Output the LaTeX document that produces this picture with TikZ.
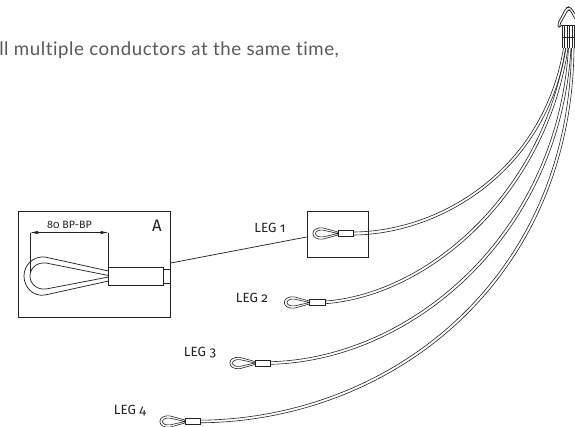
\documentclass[tikz,border=0pt]{standalone}
\usepackage{fontspec}
\setmainfont[LetterSpace=3,Ligatures=CommonOff]{Lato}
\newfontfamily\lblfont[Numbers=OldStyle]{Fira Sans}
\usetikzlibrary{arrows.meta}
\definecolor{ink}{HTML}{222222}
\definecolor{bodytext}{HTML}{58595B}
\tikzset{
  line/.style={draw=ink,line width=0.55pt},
  thin line/.style={draw=ink,line width=0.45pt},
  leg label/.style={font=\lblfont\fontsize{10}{11}\selectfont,text=ink,inner sep=0pt},
  pics/thimble/.style={code={
    \draw[thin line,fill=white,rounded corners=0.5pt] (0,-1.5) -- (-15,-5.6)
      .. controls (-21,-6.2) and (-25,-3.5) .. (-25,0)
      .. controls (-25,3.5) and (-21,6.2) .. (-15,5.6) -- (0,1.5) -- cycle;
    \draw[thin line] (0,0) -- (-15,-3.4)
      .. controls (-19.5,-3.8) and (-22.5,-2.2) .. (-22.5,0)
      .. controls (-22.5,2.2) and (-19.5,3.8) .. (-15,3.4) -- cycle;
    \draw[thin line,fill=white] (0,-2.8) rectangle (15.5,2.8);
  }}
}
\begin{document}
\begin{tikzpicture}[x=0.75pt,y=-0.75pt]
\useasboundingbox (0,0) rectangle (575,426);
\node[anchor=west,inner sep=0pt,text=bodytext,font=\fontsize{14}{16}\selectfont] (intro) at (-1,50) {ll multiple conductors at the same time,};

% detail boxes
\node[draw=ink,line width=0.55pt,minimum width=114pt,minimum height=79.5pt,inner sep=0pt,anchor=north west] (boxA) at (18,210.5) {};
\node[draw=ink,line width=0.55pt,minimum width=46.2pt,minimum height=34.9pt,inner sep=0pt,anchor=north west] (box1) at (306.5,210.5) {};
\coordinate (linkA) at (boxA.east |- 0,263);
\coordinate (link1) at (box1.west |- 0,237);
\draw[line] (linkA) -- (link1);

\node[font=\lblfont\fontsize{12.5}{14}\selectfont,text=ink,inner sep=0pt] (labA) at (157,226) {A};
\node[font=\lblfont\fontsize{8}{9}\selectfont,text=ink,inner sep=0pt] (dimtxt) at (69.5,225) {80 BP-BP};
\coordinate (dimL) at (30,232.5);
\coordinate (dimR) at (108.5,232.5);
\draw[thin line,{Latex[length=6pt,width=2.4pt]}-{Latex[length=6pt,width=2.4pt]}] (dimL) -- (dimR);
\draw[thin line] (dimL) -- (30,272);
\draw[thin line] (dimR) -- (108.5,268);

% large thimble
\draw[line] (108.5,271) -- (45,257)
  .. controls (33,256) and (24,265) .. (24,276)
  .. controls (24,287) and (33,297) .. (45,295) -- (108.5,281);
\draw[line] (108.5,275.5) -- (46,263)
  .. controls (37,262) and (30,268) .. (30,276)
  .. controls (30,284) and (37,290) .. (46,289) -- (108.5,277);
\draw[line,fill=white] (108.5,267.5) rectangle (163,285);
\draw[line] (163,269.5) -- (170,269.5) (163,283) -- (170,283);

% cables
\draw[thin line] (353,232) .. controls (440,231.5) and (543,170) .. (563.5,48);
\draw[thin line] (353,235) .. controls (440,234.5) and (546,172) .. (566,48);
\draw[thin line] (324,301.2) .. controls (430,293.5) and (544,190) .. (565.5,48);
\draw[thin line] (324,303.8) .. controls (431,296.5) and (547,192) .. (568,48);
\draw[thin line] (270,361.7) .. controls (410,358.5) and (557,235) .. (568.5,48);
\draw[thin line] (270,364.3) .. controls (411,361.5) and (560,237) .. (571,48);
\draw[thin line] (200,420.2) .. controls (390,418.5) and (569,280) .. (571.5,48);
\draw[thin line] (200,422.8) .. controls (391,421.5) and (572,282) .. (574,48);

\pic at (338,233.5) {thimble};
\pic at (309.5,302.5) {thimble};
\pic at (255,363) {thimble};
\pic at (185,421.5) {thimble};

\node[leg label] (leg1) at (270,227.5) {LEG 1};
\node[leg label] (leg2) at (252,298) {LEG 2};
\node[leg label] (leg3) at (200,353) {LEG 3};
\node[leg label] (leg4) at (130,411) {LEG 4};

% top hook
\draw[line,rounded corners=1.5pt] (562,25) -- (558.5,28) -- (557.5,24) -- (566,8) -- (569,6.5) -- (572,9) -- (575,14);
\draw[line,rounded corners=1pt] (560,25) -- (560,24) -- (568,10) -- (570,10) -- (575,19);
\draw[line] (562,25) -- (575,25);
\foreach \x in {562,564.5,567,569.5,572,574.5}{\draw[line] (\x,25) -- (\x,48);}
\draw[line] (562,37) -- (575,37);
\end{tikzpicture}
\end{document}
